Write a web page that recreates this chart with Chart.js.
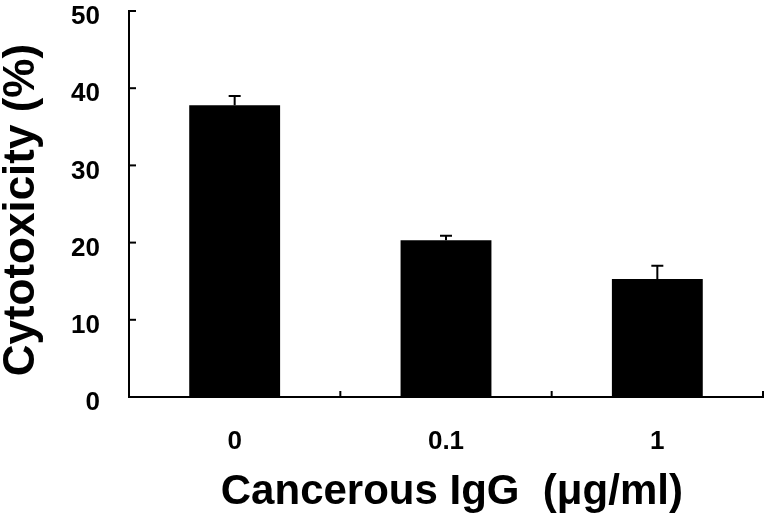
<!DOCTYPE html>
<html>
<head>
<meta charset="utf-8">
<script src="https://cdn.jsdelivr.net/npm/chart.js@4/dist/chart.umd.min.js"></script>
<style>
  html, body { margin: 0; padding: 0; background: #fff; }
  #wrap { width: 769px; height: 523px; }
</style>
</head>
<body>
<div id="wrap"><canvas id="chart"></canvas></div>
<script>
const categories = ["0", "0.1", "1"];
const cytotoxicity = [37.8, 20.3, 15.3];
const errors = [1.2, 0.6, 1.7];
const yTicks = [0, 10, 20, 30, 40, 50];

const FONT = "'Liberation Sans', Arial, sans-serif";

// inward tick marks + upward-only error bars
const extras = {
  id: "extras",
  afterDatasetsDraw(chart) {
    const { ctx, scales: { x, y } } = chart;
    ctx.save();
    ctx.strokeStyle = "#000";
    ctx.lineWidth = 2;

    yTicks.forEach(v => {
      const py = y.getPixelForValue(v);
      ctx.beginPath();
      ctx.moveTo(x.left, py);
      ctx.lineTo(x.left + 7, py);
      ctx.stroke();
    });

    for (let i = 0; i < categories.length; i++) {
      const px = x.getPixelForValue(i + 0.5);
      ctx.beginPath();
      ctx.moveTo(px, y.bottom);
      ctx.lineTo(px, y.bottom - 6);
      ctx.stroke();
    }

    cytotoxicity.forEach((v, i) => {
      const px = x.getPixelForValue(i);
      const top = y.getPixelForValue(v);
      const end = y.getPixelForValue(v + errors[i]);
      ctx.beginPath();
      ctx.moveTo(px, top);
      ctx.lineTo(px, end);
      ctx.moveTo(px - 6, end);
      ctx.lineTo(px + 6, end);
      ctx.stroke();
    });
    ctx.restore();
  }
};

new Chart(document.getElementById("chart"), {
  type: "bar",
  data: {
    labels: categories,
    datasets: [{
      data: cytotoxicity,
      backgroundColor: "#000",
      borderColor: "#000",
      borderWidth: 0,
      barPercentage: 0.43,
      categoryPercentage: 1
    }]
  },
  options: {
    responsive: true,
    maintainAspectRatio: false,
    animation: false,
    layout: {
      autoPadding: false,
      padding: { top: 11, right: 6, left: 0, bottom: 0 }
    },
    plugins: {
      legend: { display: false },
      tooltip: { enabled: false }
    },
    scales: {
      x: {
        offset: true,
        grid: { display: false, drawTicks: false },
        border: { display: true, color: "#000", width: 2 },
        ticks: {
          color: "#000",
          padding: 29,
          font: { family: FONT, size: 26, weight: "bold" }
        },
        title: {
          display: true,
          text: " Cancerous IgG  (\u03bcg/ml)",
          color: "#000",
          padding: { top: 0, bottom: 5 },
          font: { family: FONT, size: 42, weight: "bold", lineHeight: 1.2 }
        },
        afterFit(scale) {
          scale.height = 126;
          scale.paddingLeft = 0;
          scale.paddingRight = 0;
        }
      },
      y: {
        min: 0,
        max: 50,
        grid: { display: false, drawTicks: false },
        border: { display: true, color: "#000", width: 2 },
        ticks: {
          stepSize: 10,
          color: "#000",
          padding: 29,
          labelOffset: 6,
          font: { family: FONT, size: 26, weight: "bold" }
        },
        title: {
          display: true,
          text: "Cytotoxicity (%) ",
          color: "#000",
          padding: { top: 0, bottom: 0 },
          font: { family: FONT, size: 44, weight: "bold", lineHeight: 1 }
        },
        afterFit(scale) {
          scale.width = 129;
          scale.paddingTop = 0;
          scale.paddingBottom = 0;
        }
      }
    }
  },
  plugins: [extras]
});
</script>
</body>
</html>
